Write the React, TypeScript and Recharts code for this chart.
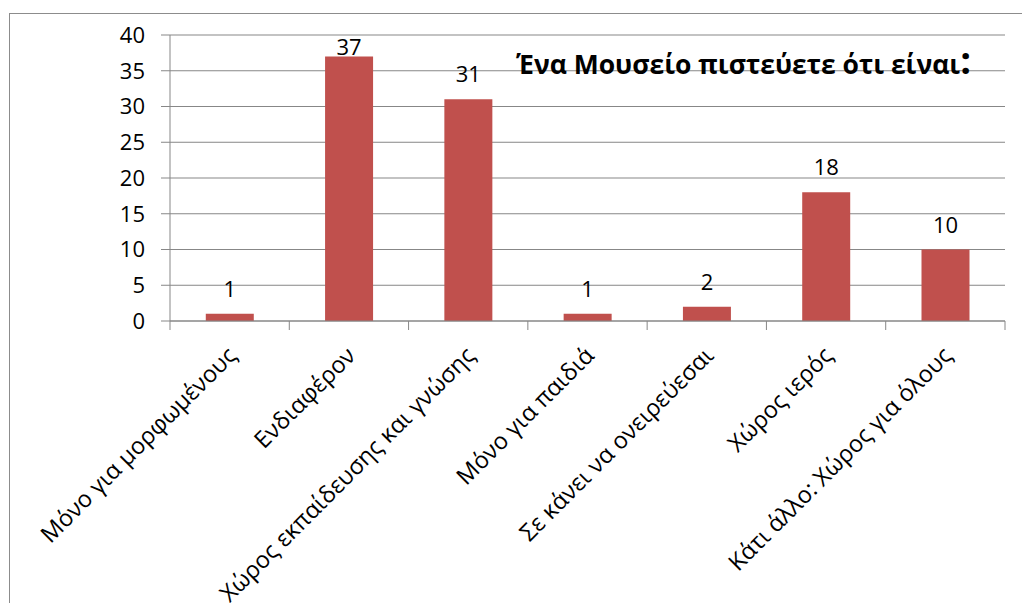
import { BarChart, Bar, XAxis, YAxis, CartesianGrid, LabelList } from "recharts";

const categories = [
  "Μόνο για μορφωμένους",
  "Ενδιαφέρον",
  "Χώρος εκπαίδευσης και γνώσης",
  "Μόνο για παιδιά",
  "Σε κάνει να ονειρεύεσαι",
  "Χώρος ιερός",
  "Κάτι άλλο: Χώρος για όλους",
];
const answers = [1, 37, 31, 1, 2, 18, 10];
const yTicks = [0, 5, 10, 15, 20, 25, 30, 35, 40];

const data = categories.map((name, i) => ({ name, value: answers[i] }));

const W = 1022;
const H = 603;
const PLOT_LEFT = 170;
const PLOT_RIGHT = 1005;
const PLOT_TOP = 35;
const PLOT_BOTTOM = 321;
const band = (PLOT_RIGHT - PLOT_LEFT) / categories.length;
const GRID = "#878787";
const FONT = "'Open Sans', sans-serif";

function CategoryTick(props: any) {
  const { x, payload, index } = props;
  const y0 = PLOT_BOTTOM;
  const ax = x + 8;
  const ay = y0 + 36;
  return (
    <g>
      <line x1={x - band / 2} x2={x - band / 2} y1={y0} y2={y0 + 9} stroke={GRID} />
      {index === categories.length - 1 && (
        <line x1={x + band / 2} x2={x + band / 2} y1={y0} y2={y0 + 9} stroke={GRID} />
      )}
      <text
        x={ax}
        y={ay}
        textAnchor="end"
        fontSize={23.5}
        fontFamily={FONT}
        fill="#000"
        transform={`rotate(-45, ${ax}, ${ay})`}
      >
        {payload.value}
      </text>
    </g>
  );
}

// value label above each bar, kept inside the plot area
function ValueLabel(props: any) {
  const { x, y, width, value } = props;
  const by = Math.max(y - 17, PLOT_TOP + 20);
  return (
    <text
      x={x + width / 2}
      y={by}
      textAnchor="middle"
      fontSize={22}
      fontFamily={FONT}
      fill="#000"
    >
      {value}
    </text>
  );
}

export default function App() {
  return (
    <div
      style={{
        position: "absolute",
        left: 0,
        top: 0,
        width: W,
        height: H,
        overflow: "hidden",
        background: "#fff",
      }}
    >
      <div
        style={{
          position: "absolute",
          left: 9,
          top: 13,
          width: 1100,
          height: 700,
          border: "1px solid #8c8c8c",
        }}
      />
      <div style={{ position: "absolute", left: 0, top: 0 }}>
        <BarChart
          width={W}
          height={H}
          data={data}
          margin={{ top: PLOT_TOP, right: W - PLOT_RIGHT, left: 0, bottom: 0 }}
          barCategoryGap="30%"
        >
          <CartesianGrid vertical={false} stroke={GRID} strokeWidth={1} />
          <YAxis
            domain={[0, 40]}
            ticks={yTicks}
            width={PLOT_LEFT}
            tickSize={9}
            tickMargin={16}
            axisLine={{ stroke: GRID }}
            tickLine={{ stroke: GRID }}
            tick={{ fill: "#000", fontSize: 22, fontFamily: FONT }}
            interval={0}
          />
          <XAxis
            dataKey="name"
            height={H - PLOT_BOTTOM}
            axisLine={{ stroke: GRID }}
            tickLine={false}
            interval={0}
            tick={<CategoryTick />}
          />
          <Bar dataKey="value" fill="#C0504D" isAnimationActive={false}>
            <LabelList dataKey="value" content={<ValueLabel />} />
          </Bar>
        </BarChart>
      </div>
      <div
        style={{
          position: "absolute",
          left: 516,
          top: 40,
          fontFamily: FONT,
          fontWeight: 700,
          fontSize: 26.5,
          lineHeight: 1,
          color: "#000",
          whiteSpace: "nowrap",
        }}
      >
        Ένα Μουσείο πιστεύετε ότι είναι<span style={{ fontSize: 38 }}>:</span>
      </div>
    </div>
  );
}
